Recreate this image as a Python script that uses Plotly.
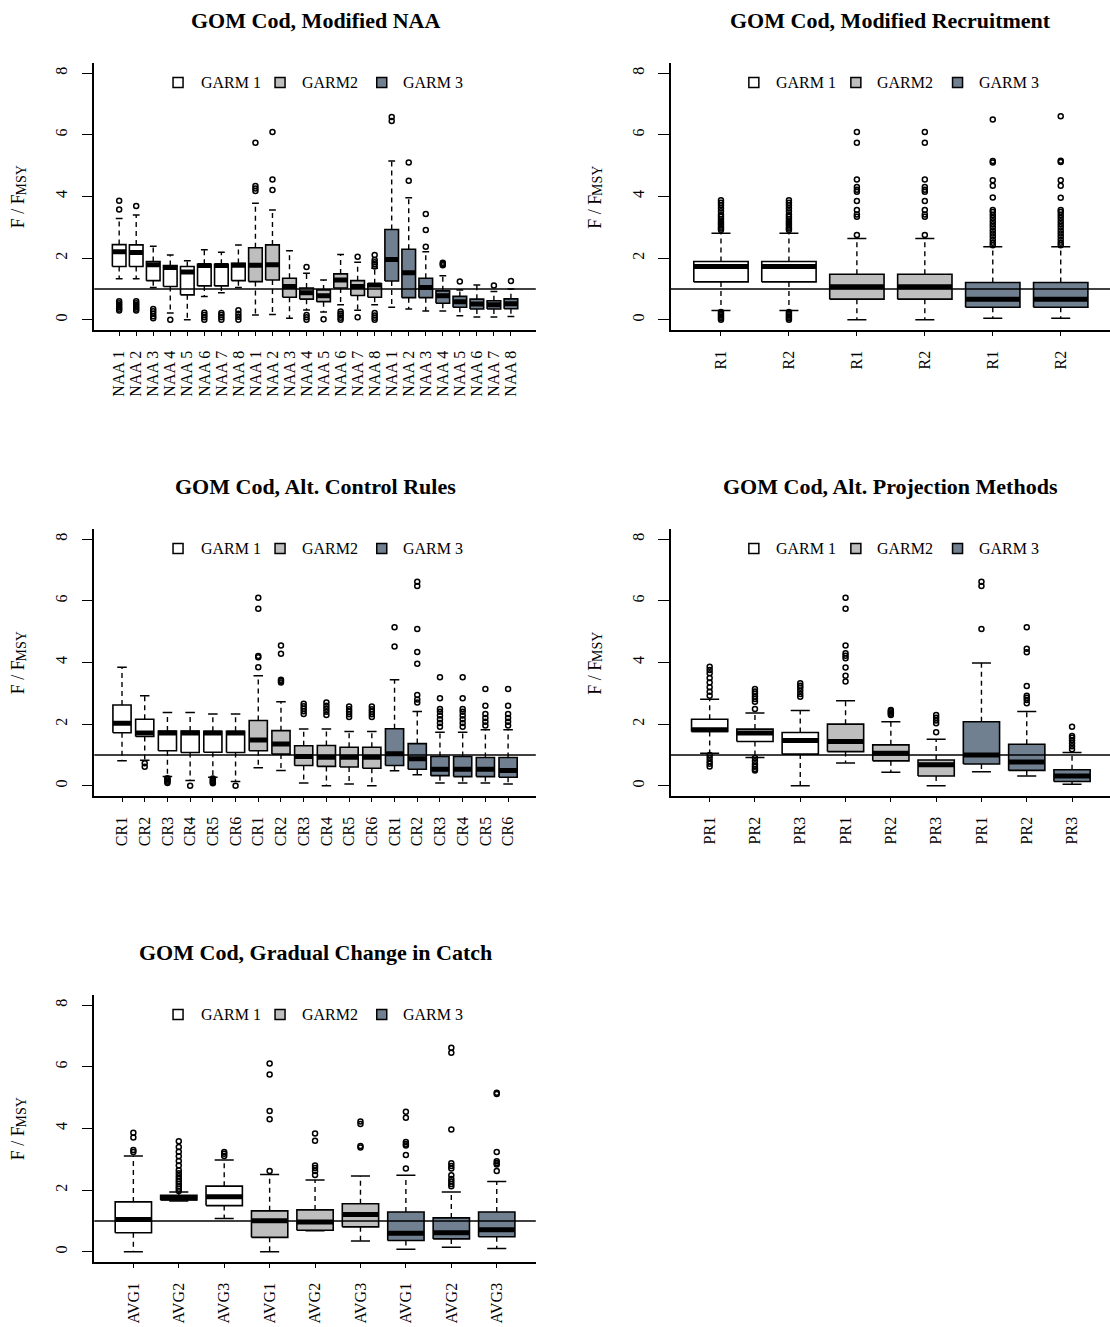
import plotly.graph_objects as go

FIG_W, FIG_H = 1110, 1327
FONT = "Liberation Serif, Times New Roman, Times, serif"
GARM_NAMES = ["GARM 1", "GARM2", "GARM 3"]
GARM_FILLS = ["#FFFFFF", "#BEBEBE", "#708090"]
F_REF = 1.0
Y_TICKS = [0, 2, 4, 6, 8]

# ---------------- GOM Cod, Modified NAA ----------------
naa_labels = ["NAA 1", "NAA 2", "NAA 3", "NAA 4", "NAA 5", "NAA 6", "NAA 7", "NAA 8"] * 3
naa_lo = [1.33, 1.33, 1.05, 0.22, 0.00, 0.76, 0.88, 1.05,
          0.16, 0.17, 0.05, 0.32, 0.25, 0.49, 0.31, 0.49,
          0.41, 0.35, 0.29, 0.29, 0.13, 0.09, 0.09, 0.11]
naa_q1 = [1.73, 1.73, 1.27, 1.08, 0.81, 1.10, 1.10, 1.27,
          1.24, 1.29, 0.73, 0.67, 0.59, 1.03, 0.79, 0.73,
          1.26, 0.72, 0.72, 0.54, 0.41, 0.35, 0.35, 0.36]
naa_med = [2.21, 2.18, 1.79, 1.70, 1.55, 1.76, 1.76, 1.77,
           1.77, 1.79, 1.08, 0.88, 0.78, 1.29, 1.08, 1.13,
           1.96, 1.53, 1.05, 0.78, 0.59, 0.51, 0.49, 0.52]
naa_q3 = [2.44, 2.43, 1.89, 1.76, 1.73, 1.80, 1.80, 1.83,
          2.34, 2.43, 1.35, 1.03, 0.97, 1.49, 1.27, 1.17,
          2.93, 2.29, 1.35, 0.94, 0.76, 0.67, 0.62, 0.68]
naa_hi = [3.29, 3.40, 2.39, 2.10, 1.92, 2.27, 2.19, 2.43,
          3.78, 3.56, 2.24, 1.51, 1.29, 2.12, 1.87, 1.67,
          5.15, 3.96, 2.21, 1.43, 0.97, 1.13, 0.92, 1.00]
naa_out = [[3.58, 3.86, 0.30, 0.36, 0.42, 0.48, 0.54, 0.60],
           [3.69, 0.30, 0.36, 0.42, 0.48, 0.54, 0.60],
           [0.05, 0.12, 0.20, 0.28, 0.35],
           [0.00],
           [],
           [0.00, 0.08, 0.16, 0.23],
           [0.00, 0.08, 0.16, 0.22],
           [0.00, 0.10, 0.20, 0.31],
           [4.18, 4.26, 4.34, 5.74],
           [4.21, 4.55, 6.09],
           [],
           [1.71, 0.00, 0.08, 0.16],
           [0.02],
           [0.00, 0.07, 0.14, 0.20, 0.27],
           [2.05, 0.08],
           [2.10, 1.73, 1.80, 1.87, 1.94, 0.00, 0.07, 0.14, 0.22],
           [6.45, 6.58],
           [4.51, 5.10],
           [2.37, 2.91, 3.43],
           [1.77, 1.81, 1.85],
           [1.24],
           [],
           [1.11],
           [1.26]]

# ---------------- GOM Cod, Modified Recruitment ----------------
rec_labels = ["R1", "R2", "R1", "R2", "R1", "R2"]
rec_lo = [0.30, 0.30, 0.00, 0.00, 0.05, 0.05]
rec_q1 = [1.23, 1.23, 0.67, 0.67, 0.41, 0.41]
rec_med = [1.73, 1.73, 1.07, 1.07, 0.67, 0.67]
rec_q3 = [1.89, 1.89, 1.48, 1.48, 1.21, 1.21]
rec_hi = [2.81, 2.81, 2.64, 2.64, 2.37, 2.37]
rec_out = [[2.91, 2.96, 3.02, 3.08, 3.14, 3.20, 3.27, 3.34, 3.42, 3.52, 3.62, 3.72, 3.80, 3.88,
            0.00, 0.05, 0.10, 0.15, 0.20, 0.25],
           [2.91, 2.96, 3.02, 3.08, 3.14, 3.20, 3.27, 3.34, 3.42, 3.52, 3.62, 3.72, 3.80, 3.88,
            0.00, 0.05, 0.10, 0.15, 0.20, 0.25],
           [2.75, 3.34, 3.42, 3.56, 3.85, 4.15, 4.22, 4.31, 4.55, 5.74, 6.09],
           [2.75, 3.34, 3.42, 3.56, 3.85, 4.15, 4.22, 4.31, 4.55, 5.74, 6.09],
           [2.42, 2.50, 2.60, 2.70, 2.80, 2.90, 3.00, 3.10, 3.20, 3.30, 3.40, 3.50, 3.56,
            3.97, 4.35, 4.53, 5.10, 5.15, 6.50],
           [2.42, 2.50, 2.60, 2.70, 2.80, 2.90, 3.00, 3.10, 3.20, 3.30, 3.40, 3.50, 3.56,
            3.96, 4.35, 4.53, 5.12, 5.16, 6.60]]

# ---------------- GOM Cod, Alt. Control Rules ----------------
cr_labels = ["CR1", "CR2", "CR3", "CR4", "CR5", "CR6"] * 3
cr_lo = [0.81, 0.83, 0.30, 0.17, 0.28, 0.14,
         0.59, 0.50, 0.09, 0.00, 0.06, 0.00,
         0.49, 0.36, 0.09, 0.09, 0.09, 0.06]
cr_q1 = [1.72, 1.60, 1.14, 1.08, 1.09, 1.08,
         1.14, 1.03, 0.66, 0.63, 0.61, 0.57,
         0.66, 0.54, 0.33, 0.30, 0.30, 0.28]
cr_med = [2.03, 1.71, 1.71, 1.71, 1.71, 1.71,
          1.49, 1.36, 0.95, 0.93, 0.93, 0.93,
          1.04, 0.88, 0.54, 0.54, 0.54, 0.50]
cr_q3 = [2.62, 2.16, 1.78, 1.78, 1.77, 1.77,
         2.12, 1.79, 1.30, 1.31, 1.25, 1.25,
         1.85, 1.37, 0.95, 0.95, 0.92, 0.92]
cr_hi = [3.85, 2.92, 2.38, 2.38, 2.33, 2.33,
         3.57, 2.73, 1.84, 1.84, 1.76, 1.76,
         3.44, 2.41, 1.74, 1.74, 1.82, 1.82]
cr_out = [[],
          [0.73, 0.62],
          [0.09, 0.13, 0.17, 0.21, 0.25],
          [0.00],
          [0.08, 0.12, 0.16, 0.20, 0.24],
          [0.00],
          [3.85, 4.17, 4.21, 5.74, 6.10],
          [3.35, 3.40, 3.44, 4.28, 4.55],
          [2.33, 2.42, 2.50, 2.58, 2.66],
          [2.30, 2.40, 2.50, 2.60, 2.70],
          [2.23, 2.32, 2.40, 2.48, 2.57],
          [2.23, 2.32, 2.40, 2.48, 2.57],
          [4.52, 5.14],
          [2.70, 2.80, 2.95, 3.96, 4.34, 5.09, 6.48, 6.62],
          [1.92, 2.04, 2.16, 2.28, 2.40, 2.49, 2.84, 3.52],
          [1.92, 2.04, 2.16, 2.28, 2.40, 2.49, 2.84, 3.52],
          [1.96, 2.08, 2.20, 2.33, 2.60, 3.14],
          [1.96, 2.08, 2.20, 2.33, 2.60, 3.14]]

# ---------------- GOM Cod, Alt. Projection Methods ----------------
pr_labels = ["PR1", "PR2", "PR3"] * 3
pr_lo = [1.06, 0.92, 0.00, 0.74, 0.44, 0.00, 0.46, 0.32, 0.05]
pr_q1 = [1.76, 1.44, 1.03, 1.11, 0.81, 0.32, 0.71, 0.50, 0.14]
pr_med = [1.82, 1.71, 1.47, 1.44, 1.06, 0.68, 1.00, 0.77, 0.32]
pr_q3 = [2.16, 1.84, 1.73, 2.00, 1.33, 0.84, 2.08, 1.35, 0.52]
pr_hi = [2.81, 2.36, 2.44, 2.76, 2.08, 1.51, 3.98, 2.41, 1.08]
pr_out = [[2.92, 3.05, 3.20, 3.35, 3.50, 3.65, 3.76, 3.86, 1.00, 0.90, 0.80, 0.72, 0.63],
          [2.49, 2.73, 2.82, 2.90, 2.99, 3.06, 3.14, 0.90, 0.80, 0.70, 0.62, 0.55, 0.50],
          [2.89, 2.98, 3.08, 3.18, 3.25, 3.33],
          [3.38, 3.57, 3.84, 4.14, 4.22, 4.30, 4.55, 5.74, 6.10],
          [2.30, 2.34, 2.38, 2.42, 2.46],
          [1.74, 2.03, 2.12, 2.21, 2.30],
          [5.09, 6.48, 6.62],
          [2.68, 2.78, 2.86, 2.92, 3.24, 4.33, 4.45, 5.14],
          [1.19, 1.28, 1.38, 1.48, 1.56, 1.62, 1.92]]

# ---------------- GOM Cod, Gradual Change in Catch ----------------
avg_labels = ["AVG1", "AVG2", "AVG3"] * 3
avg_lo = [0.00, 1.65, 1.08, 0.00, 0.68, 0.35, 0.08, 0.15, 0.11]
avg_q1 = [0.62, 1.68, 1.50, 0.47, 0.70, 0.81, 0.37, 0.42, 0.49]
avg_med = [1.05, 1.75, 1.79, 1.01, 0.97, 1.21, 0.60, 0.62, 0.72]
avg_q3 = [1.62, 1.83, 2.13, 1.33, 1.36, 1.56, 1.29, 1.10, 1.29]
avg_hi = [3.11, 1.94, 2.98, 2.51, 2.33, 2.46, 2.48, 1.94, 2.28]
avg_out = [[3.24, 3.30, 3.71, 3.86],
           [1.97, 2.05, 2.12, 2.20, 2.28, 2.36, 2.45, 2.55, 2.65, 2.80, 2.95, 3.10, 3.25, 3.40, 3.59],
           [3.11, 3.18, 3.24],
           [2.62, 4.30, 4.57, 5.75, 6.11],
           [2.49, 2.62, 2.72, 2.80, 3.60, 3.84],
           [3.38, 3.43, 4.15, 4.23],
           [2.70, 3.14, 3.45, 3.50, 3.56, 4.35, 4.54],
           [2.13, 2.20, 2.28, 2.36, 2.48, 2.70, 2.78, 2.87, 3.97, 6.46, 6.62],
           [2.62, 2.83, 2.88, 2.94, 3.24, 5.12, 5.16]]

panels = [
    dict(title="GOM Cod, Modified NAA", labels=naa_labels, lo=naa_lo, q1=naa_q1, med=naa_med,
         q3=naa_q3, hi=naa_hi, out=naa_out, row=0, col=0, cap=0.20),
    dict(title="GOM Cod, Modified Recruitment", labels=rec_labels, lo=rec_lo, q1=rec_q1, med=rec_med,
         q3=rec_q3, hi=rec_hi, out=rec_out, row=0, col=1, cap=0.14),
    dict(title="GOM Cod, Alt. Control Rules", labels=cr_labels, lo=cr_lo, q1=cr_q1, med=cr_med,
         q3=cr_q3, hi=cr_hi, out=cr_out, row=1, col=0, cap=0.21),
    dict(title="GOM Cod, Alt. Projection Methods", labels=pr_labels, lo=pr_lo, q1=pr_q1, med=pr_med,
         q3=pr_q3, hi=pr_hi, out=pr_out, row=1, col=1, cap=0.21),
    dict(title="GOM Cod, Gradual Change in Catch", labels=avg_labels, lo=avg_lo, q1=avg_q1, med=avg_med,
         q3=avg_q3, hi=avg_hi, out=avg_out, row=2, col=0, cap=0.21),
]

# plot-region geometry in pixels
COL_X = [(94.3, 535.8), (670.7, 1111.0)]
ROW_TOP, ROW_BOTTOM, ROW_STEP = 63.3, 329.7, 466.0
Y_RANGE = [-0.32, 8.32]
BOX_HALF = 0.4


def px_x(px):
    return px / FIG_W


def px_y(py):
    return 1 - py / FIG_H


fig = go.Figure()
annotations = []
shapes = []
layout_axes = {}

for idx, p in enumerate(panels, start=1):
    sfx = "" if idx == 1 else str(idx)
    xa, ya = "x" + sfx, "y" + sfx
    n = len(p["labels"])
    per_group = n // 3
    pos = list(range(1, n + 1))

    x0px, x1px = COL_X[p["col"]]
    top = ROW_TOP + ROW_STEP * p["row"]
    bottom = ROW_BOTTOM + ROW_STEP * p["row"]
    xr = [0.5 - 0.04 * n, n + 0.5 + 0.04 * n]
    scale = (x1px - x0px) / (xr[1] - xr[0])
    x1_clip = min(x1px, FIG_W)
    xr[1] = xr[0] + (x1_clip - x0px) / scale

    # dashed whiskers
    wx, wy = [], []
    for k in range(n):
        wx += [pos[k], pos[k], None, pos[k], pos[k], None]
        wy += [p["q3"][k], p["hi"][k], None, p["q1"][k], p["lo"][k], None]
    fig.add_trace(go.Scatter(x=wx, y=wy, mode="lines", xaxis=xa, yaxis=ya, hoverinfo="skip",
                             line=dict(color="black", width=1.4, dash="5px,4px")))
    # whisker caps
    cx, cy = [], []
    c = p["cap"]
    for k in range(n):
        cx += [pos[k] - c, pos[k] + c, None, pos[k] - c, pos[k] + c, None]
        cy += [p["hi"][k], p["hi"][k], None, p["lo"][k], p["lo"][k], None]
    fig.add_trace(go.Scatter(x=cx, y=cy, mode="lines", xaxis=xa, yaxis=ya, hoverinfo="skip",
                             line=dict(color="black", width=1.5)))
    # boxes, one trace per GARM fill
    for g in range(3):
        bx, by = [], []
        for k in range(g * per_group, (g + 1) * per_group):
            xl, xh = pos[k] - BOX_HALF, pos[k] + BOX_HALF
            bx += [xl, xh, xh, xl, xl, None]
            by += [p["q1"][k], p["q1"][k], p["q3"][k], p["q3"][k], p["q1"][k], None]
        fig.add_trace(go.Scatter(x=bx, y=by, mode="lines", fill="toself", fillcolor=GARM_FILLS[g],
                                 xaxis=xa, yaxis=ya, hoverinfo="skip",
                                 line=dict(color="black", width=1.6)))
    # medians
    mx, my = [], []
    for k in range(n):
        mx += [pos[k] - BOX_HALF, pos[k] + BOX_HALF, None]
        my += [p["med"][k], p["med"][k], None]
    fig.add_trace(go.Scatter(x=mx, y=my, mode="lines", xaxis=xa, yaxis=ya, hoverinfo="skip",
                             line=dict(color="black", width=5)))
    # outliers
    ox, oy = [], []
    for k in range(n):
        for v in p["out"][k]:
            ox.append(pos[k])
            oy.append(v)
    fig.add_trace(go.Scatter(x=ox, y=oy, mode="markers", xaxis=xa, yaxis=ya, hoverinfo="skip",
                             marker=dict(symbol="circle-open", size=5, color="black",
                                         line=dict(width=1.5, color="black"))))

    # reference line F = F_MSY
    shapes.append(dict(type="line", xref=f"{xa} domain", yref=ya, x0=0, x1=1, y0=F_REF, y1=F_REF,
                       line=dict(color="black", width=1.3)))

    tickfont = dict(family=FONT, size=16, color="black")
    layout_axes["xaxis" + sfx] = dict(
        domain=[px_x(x0px), px_x(x1_clip)], range=xr, anchor=ya,
        tickmode="array", tickvals=pos, ticktext=p["labels"], tickangle=-90,
        ticks="outside", ticklen=5, tickwidth=1.3, tickcolor="black",
        showline=True, linecolor="black", linewidth=1.5,
        showgrid=False, zeroline=False, tickfont=tickfont, ticklabelstandoff=8,
        fixedrange=True)
    layout_axes["yaxis" + sfx] = dict(
        domain=[px_y(bottom), px_y(top)], range=Y_RANGE, anchor=xa,
        tickmode="array", tickvals=Y_TICKS, ticktext=[str(t) for t in Y_TICKS], tickangle=-90,
        ticks="outside", ticklen=11, tickwidth=1.3, tickcolor="black",
        showline=True, linecolor="black", linewidth=1.5,
        showgrid=False, zeroline=False, tickfont=tickfont, ticklabelstandoff=8,
        fixedrange=True)

    center_px = (x0px + x1px) / 2
    # panel title
    annotations.append(dict(text=p["title"], x=px_x(center_px), y=px_y(top - 43),
                            xref="paper", yref="paper", showarrow=False, xanchor="center",
                            yanchor="middle",
                            font=dict(family=FONT, size=22, color="black", weight="bold")))
    # y-axis label: "F / F" with a subscripted "MSY"
    mid_y = (top + bottom) / 2
    annotations.append(dict(text="F / F", x=px_x(x0px - 76.5), y=px_y(mid_y + 15),
                            xref="paper", yref="paper", showarrow=False, textangle=-90,
                            xanchor="center", yanchor="middle",
                            font=dict(family=FONT, size=18, color="black")))
    annotations.append(dict(text="MSY", x=px_x(x0px - 73.3), y=px_y(mid_y - 16),
                            xref="paper", yref="paper", showarrow=False, textangle=-90,
                            xanchor="center", yanchor="middle",
                            font=dict(family=FONT, size=14, color="black")))
    # legend inside the panel
    leg_y = top + 19.2
    for g, (sq_off, txt_off) in enumerate([(-137.0, -114.4), (-35.0, -13.4), (66.7, 88.3)]):
        sx = center_px + sq_off
        shapes.append(dict(type="rect", xref="paper", yref="paper",
                           x0=px_x(sx - 5), x1=px_x(sx + 5), y0=px_y(leg_y + 5), y1=px_y(leg_y - 5),
                           fillcolor=GARM_FILLS[g], line=dict(color="black", width=1.5)))
        annotations.append(dict(text=GARM_NAMES[g], x=px_x(center_px + txt_off - 2), y=px_y(leg_y),
                                xref="paper", yref="paper", showarrow=False, xanchor="left",
                                yanchor="middle", font=dict(family=FONT, size=16, color="black")))

fig.update_layout(
    width=FIG_W, height=FIG_H, margin=dict(l=0, r=0, t=0, b=0),
    paper_bgcolor="white", plot_bgcolor="white", showlegend=False,
    annotations=annotations, shapes=shapes, **layout_axes)

fig.write_html("out.html")
